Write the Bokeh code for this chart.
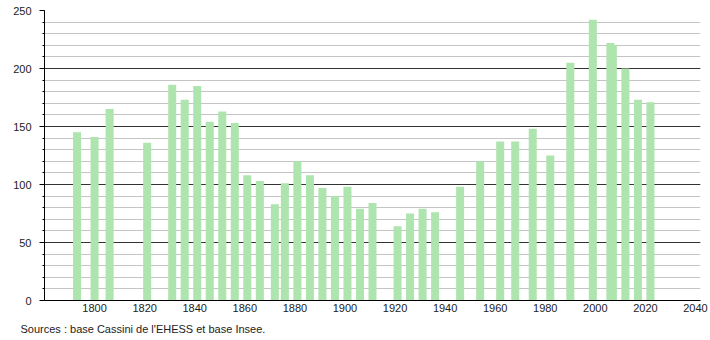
from bokeh.plotting import figure
from bokeh.models import ColumnDataSource, FixedTicker, SingleIntervalTicker, Range1d, Title
from bokeh.embed import file_html
from bokeh.resources import INLINE

years = [1793, 1800, 1806, 1821, 1831, 1836, 1841, 1846, 1851, 1856,
         1861, 1866, 1872, 1876, 1881, 1886, 1891, 1896, 1901, 1906,
         1911, 1921, 1926, 1931, 1936, 1946, 1954, 1962, 1968, 1975,
         1982, 1990, 1999, 2006, 2007, 2012, 2017, 2022]
population = [145, 141, 165, 136, 186, 173, 185, 154, 163, 153,
              108, 103, 83, 101, 120, 108, 97, 90, 98, 79,
              84, 64, 75, 79, 76, 98, 120, 137, 137, 148,
              125, 205, 242, 222, 220, 200, 173, 171]
x_ticks = [1800, 1820, 1840, 1860, 1880, 1900, 1920, 1940, 1960, 1980, 2000, 2020, 2040]
source_text = "Sources : base Cassini de l'EHESS et base Insee."

src = ColumnDataSource(data=dict(year=years, pop=population))

p = figure(width=710, height=340, output_backend="svg", toolbar_location=None,
           x_range=Range1d(1780, 2042), y_range=Range1d(0, 250),
           min_border_left=44, min_border_right=10, min_border_top=10,
           min_border_bottom=40)
p.outline_line_color = None
p.background_fill_color = "white"
p.border_fill_color = "white"

p.vbar(x="year", top="pop", width=3.2, source=src,
       fill_color="#aee4ae", line_color=None)

# grids
p.xgrid.grid_line_color = None
p.yaxis.ticker = SingleIntervalTicker(interval=50, num_minor_ticks=5)
p.ygrid.grid_line_color = "#333333"
p.ygrid.grid_line_width = 1
p.ygrid.minor_grid_line_color = "#c4c4c4"
p.ygrid.minor_grid_line_width = 1
p.ygrid.level = "underlay"

# axes
p.xaxis.ticker = FixedTicker(ticks=x_ticks)
p.xaxis.major_tick_out = 0
p.xaxis.major_tick_in = 0
p.xaxis.minor_tick_out = 0
p.xaxis.minor_tick_in = 0
p.xaxis.axis_line_color = "black"
p.xaxis.major_label_standoff = 3

p.yaxis.major_tick_out = 5
p.yaxis.major_tick_in = 0
p.yaxis.minor_tick_out = 2
p.yaxis.minor_tick_in = 0
p.yaxis.axis_line_color = "black"
p.yaxis.major_label_standoff = 8

for ax in (p.xaxis, p.yaxis):
    ax.major_label_text_font = "Liberation Sans"
    ax.major_label_text_font_size = "11px"
    ax.major_label_text_color = "#222222"

t = Title(text=source_text, align="left", offset=-24,
          text_font="Liberation Sans", text_font_size="11px",
          text_font_style="normal", text_color="#222222", standoff=12)
p.add_layout(t, "below")

open("out.html", "w").write(file_html(p, INLINE))
